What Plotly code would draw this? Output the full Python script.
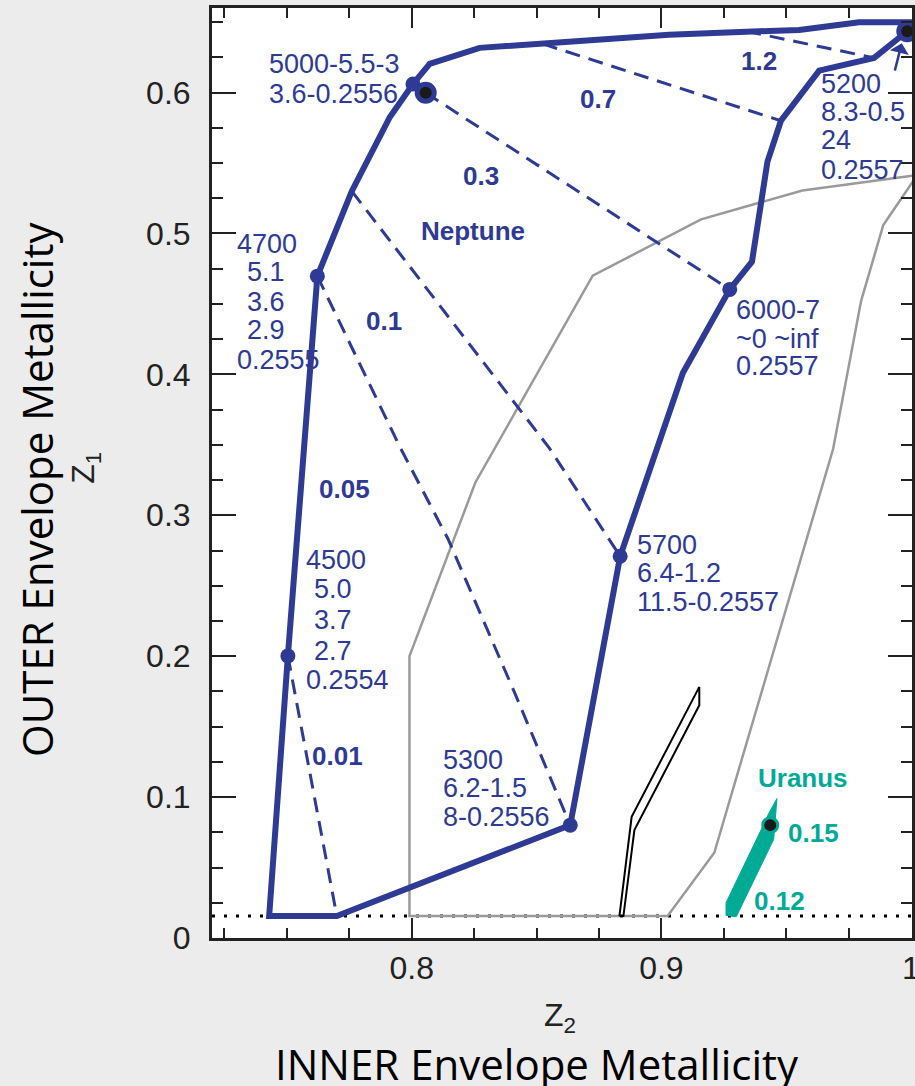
import plotly.graph_objects as go

BLUE = "#2e3a94"
TEAL = "#00ab96"
GRAY = "#9a9a9a"
INK = "#222222"

# ---- data (Z2 = inner, Z1 = outer metallicity) ----
# Neptune solution boundary (thick solid)
nep_z2 = [0.9985, 0.9852, 0.9632, 0.9479, 0.9425, 0.9363, 0.9274, 0.9086, 0.8835, 0.8635,
          0.7700, 0.7429, 0.7504, 0.7622, 0.7760, 0.7912, 0.8005, 0.8072, 0.8272, 0.8525,
          0.9031, 0.9392, 0.9552, 0.9792, 1.0050]
nep_z1 = [0.6435, 0.6246, 0.6156, 0.5800, 0.5510, 0.4800, 0.4603, 0.4010, 0.2709, 0.0801,
          0.0156, 0.0156, 0.2002, 0.4697, 0.5300, 0.5825, 0.6061, 0.6203, 0.6317, 0.6345,
          0.6410, 0.6435, 0.6444, 0.6498, 0.6498]

# dashed iso-lines
d12_z2 = [0.9340, 0.9852];  d12_z1 = [0.6435, 0.6246]
d07_z2 = [0.8525, 0.9479];  d07_z1 = [0.6345, 0.5800]
d03_z2 = [0.8056, 0.9274];  d03_z1 = [0.5998, 0.4603]
d01_z2 = [0.7760, 0.8552, 0.8835];  d01_z1 = [0.5300, 0.3475, 0.2709]
d005_z2 = [0.7622, 0.7954, 0.8146, 0.8410, 0.8635];  d005_z1 = [0.4697, 0.3480, 0.2830, 0.1750, 0.0801]
d001_z2 = [0.7504, 0.7700];  d001_z1 = [0.2002, 0.0156]

# gray region
gray_z2 = [1.0050, 0.9565, 0.9159, 0.8725, 0.8255, 0.7991, 0.7991, 0.9025, 0.9212, 0.9688,
           0.9800, 0.9889, 1.0050]
gray_z1 = [0.5420, 0.5305, 0.5100, 0.4700, 0.3233, 0.2000, 0.0156, 0.0156, 0.0605, 0.3470,
           0.4520, 0.5060, 0.5480]

# black thin shape
blk_z2 = [0.8832, 0.8881, 0.9152, 0.9152, 0.8892, 0.8848, 0.8832]
blk_z1 = [0.0156, 0.0860, 0.1782, 0.1652, 0.0766, 0.0156, 0.0156]

# Uranus band
ura_z2 = [0.9259, 0.9259, 0.9300, 0.9450, 0.9463, 0.9432, 0.9400, 0.9259]
ura_z1 = [0.0250, 0.0160, 0.0151, 0.0700, 0.0990, 0.0890, 0.0770, 0.0250]

# dotted lower limit
floor_z1 = 0.0156
floor_z2 = [0.72, 1.0]

# model points
pt_z2 = [0.7504, 0.7622, 0.8005, 0.8635, 0.8835, 0.9274]
pt_z1 = [0.2002, 0.4697, 0.6061, 0.0801, 0.2709, 0.4603]
ring_z2 = [0.8056, 0.9985];  ring_z1 = [0.5998, 0.6435]
ura_pt_z2 = [0.9436];  ura_pt_z1 = [0.0801]

# model labels (one entry per line)
lab_text = ["5000-5.5-3", "3.6-0.2556",
            "4700", "5.1", "3.6", "2.9", "0.2555",
            "4500", "5.0", "3.7", "2.7", "0.2554",
            "5300", "6.2-1.5", "8-0.2556",
            "5700", "6.4-1.2", "11.5-0.2557",
            "6000-7", "~0 ~inf", "0.2557",
            "5200", "8.3-0.5", "24", "0.2557"]
lab_z2 = [0.7422, 0.7422,
          0.7294, 0.7334, 0.7334, 0.7334, 0.7294,
          0.7567, 0.7600, 0.7600, 0.7600, 0.7567,
          0.8119, 0.8119, 0.8119,
          0.8894, 0.8894, 0.8894,
          0.9290, 0.9290, 0.9290,
          0.9632, 0.9632, 0.9632, 0.9632]
lab_z1 = [0.6203, 0.5991,
          0.4927, 0.4726, 0.4513, 0.4312, 0.4104,
          0.2681, 0.2475, 0.2255, 0.2035, 0.1830,
          0.1262, 0.1062, 0.0860,
          0.2787, 0.2587, 0.2385,
          0.4454, 0.4253, 0.4059,
          0.6062, 0.5860, 0.5660, 0.5447]

# bold iso-line values
iso_text = ["1.2", "0.7", "0.3", "Neptune", "0.1", "0.05", "0.01"]
iso_z2 = [0.9392, 0.8748, 0.8279, 0.8246, 0.7890, 0.7732, 0.7703]
iso_z1 = [0.6221, 0.5955, 0.5405, 0.5020, 0.4376, 0.3185, 0.1290]

ura_text = ["Uranus", "0.15", "0.12"]
ura_tx = [0.9567, 0.9501, 0.9363]
ura_ty = [0.1135, 0.0748, 0.0262]
ura_anchor = ["center", "left", "left"]

fig = go.Figure()

fig.add_trace(go.Scatter(x=floor_z2, y=[floor_z1, floor_z1], mode="lines",
                         line=dict(color="black", width=3, dash="3px,9px")))
fig.add_trace(go.Scatter(x=gray_z2, y=gray_z1, mode="lines",
                         line=dict(color=GRAY, width=2.5)))
fig.add_trace(go.Scatter(x=blk_z2, y=blk_z1, mode="lines",
                         line=dict(color="black", width=2)))
fig.add_trace(go.Scatter(x=ura_z2, y=ura_z1, mode="lines", fill="toself",
                         fillcolor=TEAL, line=dict(color=TEAL, width=1)))

for xs, ys in [(d12_z2, d12_z1), (d07_z2, d07_z1), (d03_z2, d03_z1),
               (d01_z2, d01_z1), (d005_z2, d005_z1), (d001_z2, d001_z1)]:
    fig.add_trace(go.Scatter(x=xs, y=ys, mode="lines",
                             line=dict(color=BLUE, width=3, dash="15px,9px")))

fig.add_trace(go.Scatter(x=nep_z2, y=nep_z1, mode="lines",
                         line=dict(color=BLUE, width=6)))

fig.add_trace(go.Scatter(x=pt_z2, y=pt_z1, mode="markers", cliponaxis=False,
                         marker=dict(color=BLUE, size=15, line=dict(width=0))))
fig.add_trace(go.Scatter(x=ring_z2, y=ring_z1, mode="markers", cliponaxis=False,
                         marker=dict(color="#1a1a1a", size=17, line=dict(color=BLUE, width=5))))
fig.add_trace(go.Scatter(x=ura_pt_z2, y=ura_pt_z1, mode="markers", cliponaxis=False,
                         marker=dict(color="#1a1a1a", size=15, line=dict(color=TEAL, width=3))))

LABFONT = dict(family="Liberation Sans, Arial", size=27, color=BLUE)
for t, x, y in zip(lab_text, lab_z2, lab_z1):
    fig.add_annotation(x=x, y=y, text=t, showarrow=False, xanchor="left", yanchor="middle",
                       font=LABFONT)
for t, x, y in zip(iso_text, iso_z2, iso_z1):
    fig.add_annotation(x=x, y=y, text="<b>%s</b>" % t, showarrow=False,
                       xanchor="center", yanchor="middle",
                       font=dict(family="Liberation Sans, Arial", size=26, color=BLUE))
for t, x, y, a in zip(ura_text, ura_tx, ura_ty, ura_anchor):
    fig.add_annotation(x=x, y=y, text="<b>%s</b>" % t, showarrow=False,
                       xanchor=a, yanchor="middle",
                       font=dict(family="Liberation Sans, Arial", size=26, color=TEAL))

# arrow pointing to the 5200 model
fig.add_annotation(x=0.9963, y=0.6350, ax=0.9925, ay=0.6085, axref="x", ayref="y",
                   xref="x", yref="y", text=" ", showarrow=True, arrowhead=1,
                   arrowsize=1.3, arrowwidth=2.5, arrowcolor=BLUE)

# axis titles
TFONT = dict(family="Open Sans", size=42, color="black")
fig.add_annotation(xref="paper", yref="paper", x=-0.251, y=0.482, text="OUTER Envelope Metallicity",
                   textangle=-90, showarrow=False, font=TFONT, xanchor="center", yanchor="middle")
fig.add_annotation(xref="paper", yref="paper", x=0.464, y=-0.135, text="INNER Envelope Metallicity",
                   showarrow=False, font=TFONT, xanchor="center", yanchor="middle")
ZFONT = dict(family="Liberation Sans, Arial", size=32, color=INK)
fig.add_annotation(xref="paper", yref="paper", x=-0.181, y=0.506, text="Z<sub>1</sub>",
                   textangle=-90, showarrow=False, font=ZFONT, xanchor="center", yanchor="middle")
fig.add_annotation(xref="paper", yref="paper", x=0.497, y=-0.086, text="Z<sub>2</sub>",
                   showarrow=False, font=ZFONT, xanchor="center", yanchor="middle")

axis_common = dict(showline=True, linecolor=INK, linewidth=3, mirror="ticks",
                   ticks="inside", tickwidth=2, tickcolor=INK, showgrid=False, zeroline=False,
                   ticklabeloverflow="allow", automargin=False,
                   tickfont=dict(family="Liberation Sans, Arial", size=32, color=INK))
fig.update_xaxes(range=[0.72, 1.0004], tick0=0, dtick=0.1, ticklen=20,
                 minor=dict(ticks="inside", ticklen=10, tick0=0, dtick=0.025,
                            tickwidth=2, tickcolor=INK, showgrid=False),
                 ticklabelstandoff=0, **axis_common)
fig.update_yaxes(range=[0, 0.66], tick0=0, dtick=0.1, ticklen=24,
                 minor=dict(ticks="inside", ticklen=11, tick0=0, dtick=0.025,
                            tickwidth=2, tickcolor=INK, showgrid=False),
                 ticklabelstandoff=12, **axis_common)

fig.update_layout(width=915, height=1086, showlegend=False,
                  margin=dict(l=212, r=3, t=8, b=148, pad=0, autoexpand=False),
                  paper_bgcolor="#ececec", plot_bgcolor="white")

fig.write_html("out.html", config={"displayModeBar": False},
               post_script="document.body.style.margin='0';"
                           "document.body.style.background='#ececec';"
                           "document.body.style.overflow='hidden';")
